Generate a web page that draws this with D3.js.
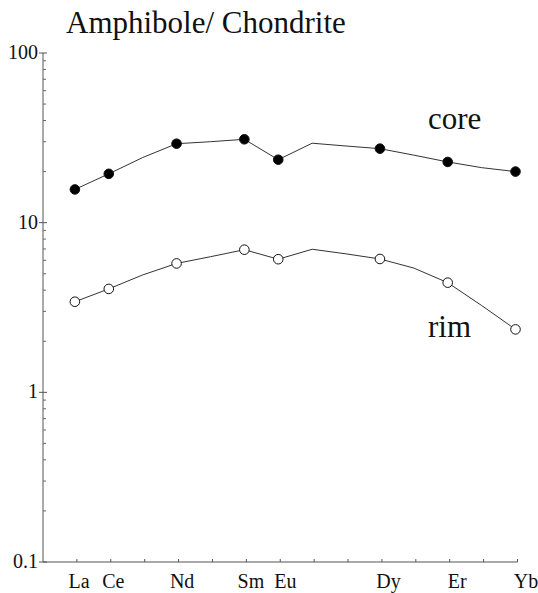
<!DOCTYPE html>
<html>
<head>
<meta charset="utf-8">
<script src="https://cdn.jsdelivr.net/npm/d3@7"></script>
<style>
  html, body { margin: 0; padding: 0; background: #fff; }
  svg { display: block; }
</style>
</head>
<body>
<svg id="chart" width="538" height="593"></svg>
<script>
// REE positions along the x axis (all 14, only some are labelled / measured)
var elements = ["La", "Ce", "Pr", "Nd", "Pm", "Sm", "Eu", "Gd", "Tb", "Dy", "Ho", "Er", "Tm", "Yb"];
var labelled = ["La", "Ce", "Nd", "Sm", "Eu", "Dy", "Er", "Yb"];

// chondrite normalised values
var coreValues = [15.7, 19.4, 24.2, 29.2, 30.0, 31.0, 23.5, 29.4, 28.3, 27.3, 25.0, 22.8, 21.1, 20.0];
var rimValues = [3.42, 4.07, 4.92, 5.75, 6.3, 6.93, 6.09, 6.97, 6.55, 6.11, 5.4, 4.43, 3.25, 2.35];

var yTicks = [0.1, 1, 10, 100];
var yTickLabels = ["0.1", "1", "10", "100"];

var serif = "Liberation Serif";

var svg = d3.select("#chart");

var x = d3.scaleLinear().domain([-1, 13]).range([43, 517.5]);
// the element names sit a little right of their ticks, more so toward Yb
var xLabel = d3.scaleLinear().domain([0, 13]).range([79, 526]);
var y = d3.scaleLog().domain([0.1, 100]).range([562, 53]);

// title
svg.append("text")
  .attr("x", 66).attr("y", 33)
  .attr("font-family", serif)
  .attr("font-size", 31)
  .attr("fill", "#111")
  .text("Amphibole/ Chondrite");

// --- axes ---
var yAxis = svg.append("g").attr("transform", "translate(43,0)");
yAxis.append("line")
  .attr("y1", y(100)).attr("y2", y(0.1))
  .attr("stroke", "#555").attr("stroke-width", 1);

// minor ticks 2..9 in every decade, pointing inward
var minor = [];
for (var d = 0.1; d < 100; d *= 10) {
  for (var k = 2; k <= 9; k++) minor.push(d * k);
}
yAxis.selectAll(".minor")
  .data(minor)
  .enter().append("line")
    .attr("class", "minor")
    .attr("x1", 0).attr("x2", 3)
    .attr("y1", function(d) { return y(d); })
    .attr("y2", function(d) { return y(d); })
    .attr("stroke", "#666").attr("stroke-width", 1);

yAxis.selectAll(".major")
  .data(yTicks)
  .enter().append("line")
    .attr("class", "major")
    .attr("x1", -4).attr("x2", 4)
    .attr("y1", function(d) { return y(d); })
    .attr("y2", function(d) { return y(d); })
    .attr("stroke", "#555").attr("stroke-width", 1);

yAxis.selectAll(".ylab")
  .data(yTicks)
  .enter().append("text")
    .attr("class", "ylab")
    .attr("x", -5)
    .attr("y", function(d) { return y(d) + 6; })
    .attr("text-anchor", "end")
    .attr("font-family", serif)
    .attr("font-size", 20)
    .attr("fill", "#111")
    .text(function(d, i) { return yTickLabels[i]; });

var xAxis = svg.append("g");
xAxis.append("line")
  .attr("x1", x(-1)).attr("x2", x(13))
  .attr("y1", y(0.1)).attr("y2", y(0.1))
  .attr("stroke", "#555").attr("stroke-width", 1);

xAxis.selectAll(".xtick")
  .data(elements)
  .enter().append("line")
    .attr("class", "xtick")
    .attr("x1", function(d, i) { return x(i); })
    .attr("x2", function(d, i) { return x(i); })
    .attr("y1", y(0.1)).attr("y2", y(0.1) - 3)
    .attr("stroke", "#555").attr("stroke-width", 1);

xAxis.selectAll(".xlab")
  .data(labelled)
  .enter().append("text")
    .attr("class", "xlab")
    .attr("x", function(d) { return xLabel(elements.indexOf(d)); })
    .attr("y", 588)
    .attr("text-anchor", "middle")
    .attr("font-family", serif)
    .attr("font-size", 20)
    .attr("fill", "#111")
    .text(function(d) { return d; });

// --- series ---
var plot = svg.append("g").attr("transform", "translate(-2,0)");
var line = d3.line()
  .x(function(d, i) { return x(i); })
  .y(function(d) { return y(d); });

function drawSeries(values, fill) {
  plot.append("path")
    .datum(values)
    .attr("d", line)
    .attr("fill", "none")
    .attr("stroke", "#333")
    .attr("stroke-width", 1);

  var pts = values.map(function(v, i) { return { el: elements[i], i: i, v: v }; })
    .filter(function(p) { return labelled.indexOf(p.el) >= 0; });

  plot.selectAll(null)
    .data(pts)
    .enter().append("circle")
      .attr("cx", function(p) { return x(p.i); })
      .attr("cy", function(p) { return y(p.v); })
      .attr("r", 4.8)
      .attr("fill", fill)
      .attr("stroke", "#111")
      .attr("stroke-width", 1);
}

drawSeries(coreValues, "#000");
drawSeries(rimValues, "#fff");

// series labels
svg.append("text")
  .attr("x", 428).attr("y", 129)
  .attr("font-family", serif)
  .attr("font-size", 31)
  .attr("fill", "#111")
  .text("core");
svg.append("text")
  .attr("x", 428).attr("y", 337)
  .attr("font-family", serif)
  .attr("font-size", 31)
  .attr("fill", "#111")
  .text("rim");
</script>
</body>
</html>
